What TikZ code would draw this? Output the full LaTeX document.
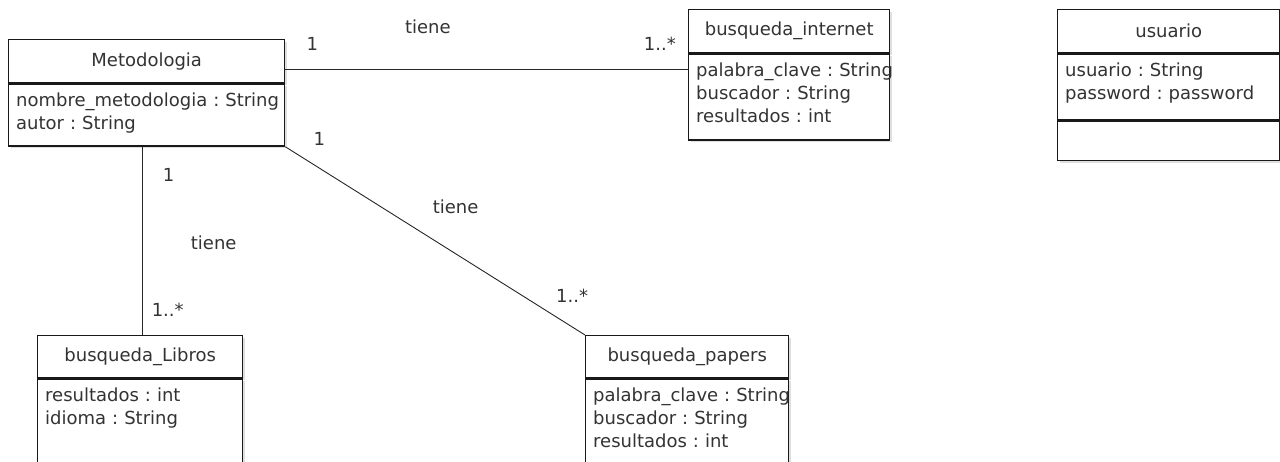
\documentclass[tikz,border=0pt]{standalone}
\usepackage{fontspec}
\setmainfont{DejaVu Sans}
\usetikzlibrary{positioning,shadows}
\definecolor{ink}{HTML}{333333}
\tikzset{basic/.style={draw=black!90,line width=1.4pt,fill=white,inner sep=0pt,
                       drop shadow={shadow xshift=2.2pt,shadow yshift=-2.2pt,opacity=0.25}}}
\tikzset{classname/.style={basic,anchor=north west,minimum height=43,text=ink}}
\tikzset{compart/.style={basic}}
\tikzset{attrs/.style={anchor=base west,inner sep=0pt,text=ink,align=left,text width=300pt}}
\tikzset{mult/.style={inner sep=0pt,text=ink}}
\tikzset{assoc/.style={draw=black!85,line width=0.9pt}}
\frenchspacing

\begin{document}
\begin{tikzpicture}[x=1pt,y=-1pt,font=\fontsize{18}{23}\selectfont]
    \clip (0,0) rectangle (1280,462);
    % classes
    \node[classname,minimum width=276] (met) at (8,39) {Metodologia};
    \node[compart,minimum width=276,minimum height=62,below=0pt of met] (metbox) {};
    \node[attrs] (metatt) at ([shift={(8,23)}]metbox.north west)
        {nombre\_metodologia : String\\autor : String};

    \node[classname,minimum width=201] (int) at (688,9) {busqueda\_internet};
    \node[compart,minimum width=201,minimum height=86,below=0pt of int] (intbox) {};
    \node[attrs] (intatt) at ([shift={(8,23)}]intbox.north west)
        {palabra\_clave : String\\buscador : String\\resultados : int};

    \node[classname,minimum width=222] (usu) at (1057,9) {usuario};
    \node[compart,minimum width=222,minimum height=66,below=0pt of usu] (usubox) {};
    \node[compart,minimum width=222,minimum height=39,below=0pt of usubox] (usuops) {};
    \node[attrs] (usuatt) at ([shift={(8,23)}]usubox.north west)
        {usuario : String\\password : password};

    \node[classname,minimum width=205,minimum height=42] (lib) at (37,335) {busqueda\_Libros};
    \node[compart,minimum width=205,minimum height=150,below=0pt of lib] (libbox) {};
    \node[attrs] (libatt) at ([shift={(8,23)}]libbox.north west)
        {resultados : int\\idioma : String};

    \node[classname,minimum width=203,minimum height=42] (pap) at (585,335) {busqueda\_papers};
    \node[compart,minimum width=203,minimum height=150,below=0pt of pap] (papbox) {};
    \node[attrs] (papatt) at ([shift={(8,23)}]papbox.north west)
        {palabra\_clave : String\\buscador : String\\resultados : int};

    % associations
    \coordinate (h1) at ([yshift=-8.5pt]met.east);
    \draw[assoc] (h1) -- (h1 -| int.west)
        node[mult,pos=0.067,yshift=26pt] (h1a) {1}
        node[mult,pos=0.354,yshift=43pt] (h1b) {tiene}
        node[mult,pos=0.93,yshift=26pt] (h1c) {1..*};

    \coordinate (v1) at ([xshift=2.5pt]lib.north);
    \draw[assoc] (v1 |- metbox.south) -- (v1)
        node[mult,pos=0.15,xshift=26pt] (v1a) {1}
        node[mult,pos=0.51,xshift=71pt] (v1b) {tiene}
        node[mult,pos=0.864,xshift=25pt] (v1c) {1..*};

    \draw[assoc] (metbox.south east) -- (pap.north west)
        node[mult,pos=0.113,yshift=29.6pt] (d1a) {1}
        node[mult,pos=0.568,yshift=46.5pt] (d1b) {tiene}
        node[mult,pos=0.957,yshift=30.7pt] (d1c) {1..*};
\end{tikzpicture}
\end{document}
